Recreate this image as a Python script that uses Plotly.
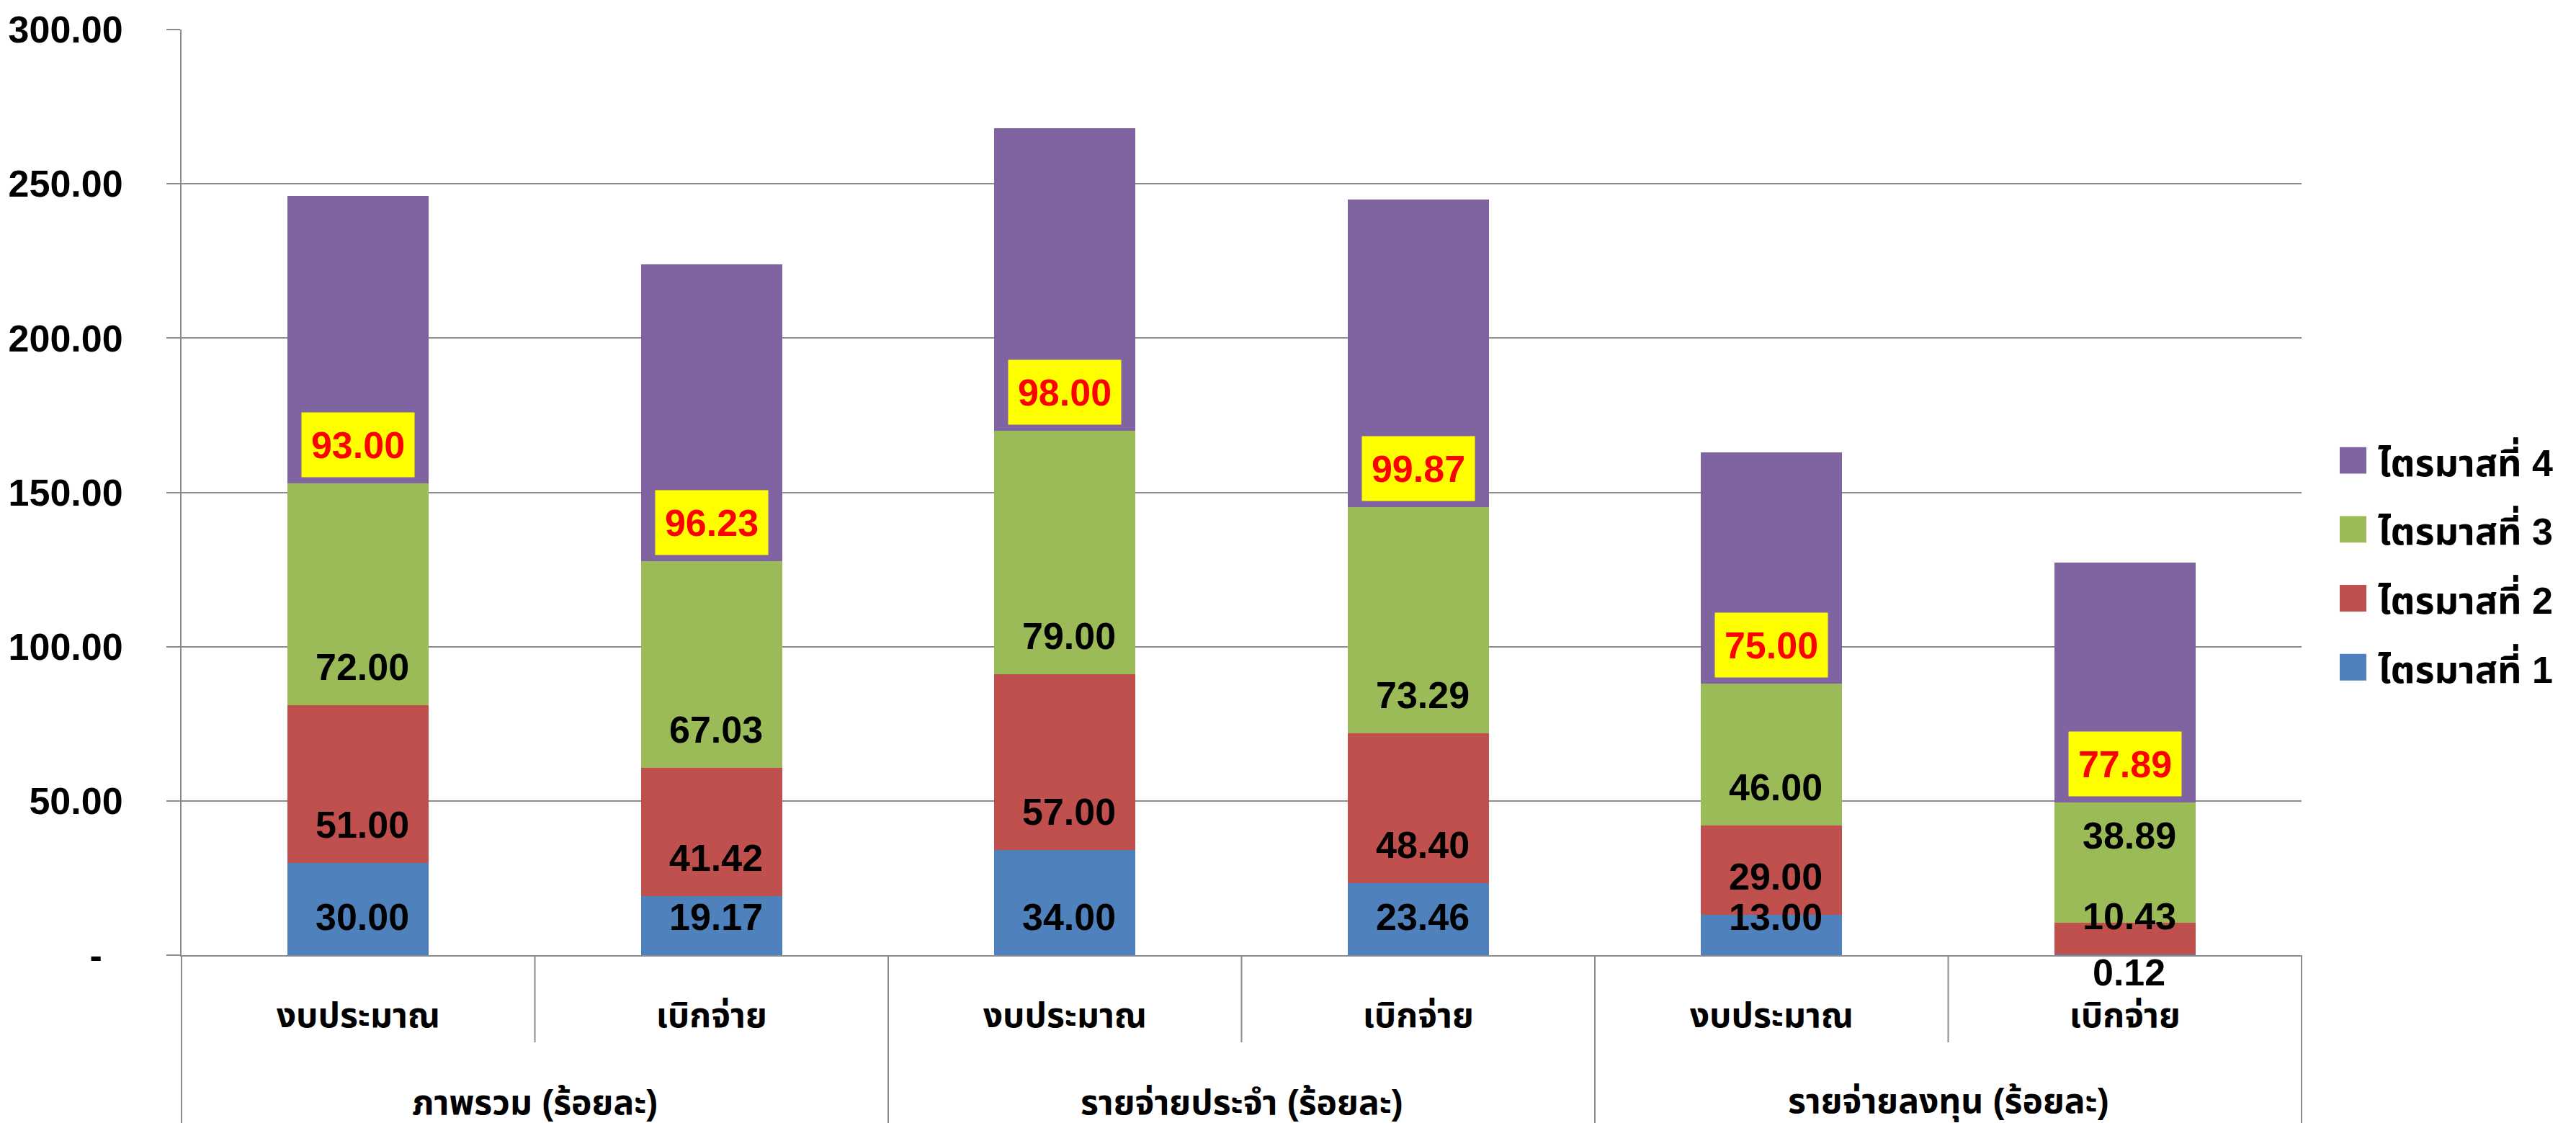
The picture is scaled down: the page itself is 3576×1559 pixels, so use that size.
import plotly.graph_objects as go

# ---------------- data ----------------
groups = ["ภาพรวม (ร้อยละ)", "รายจ่ายประจำ (ร้อยละ)", "รายจ่ายลงทุน (ร้อยละ)"]
subs = ["งบประมาณ", "เบิกจ่าย"]
series_names = ["ไตรมาสที่ 1", "ไตรมาสที่ 2", "ไตรมาสที่ 3", "ไตรมาสที่ 4"]
q1 = [30.00, 19.17, 34.00, 23.46, 13.00, 0.12]
q2 = [51.00, 41.42, 57.00, 48.40, 29.00, 10.43]
q3 = [72.00, 67.03, 79.00, 73.29, 46.00, 38.89]
q4 = [93.00, 96.23, 98.00, 99.87, 75.00, 77.89]
y_tickvals = [0, 50, 100, 150, 200, 250, 300]
y_ticktext = ["-\u00a0\u00a0", "50.00", "100.00", "150.00", "200.00", "250.00", "300.00"]

# ---------------- styles ----------------
colors = ["#4F81BD", "#C0504D", "#9BBB59", "#8064A2"]
FONT = "Liberation Sans, Noto Sans Thai, Noto Sans, Arial, sans-serif"
GRID = "#8C8C8C"
W, H = 3576, 1559
L, R, T, B = 251, 381, 37, 233
PW, PH = W - L - R, H - T - B

def px_x(p):
    return (p - L) / PW

def px_y(p):
    return (T + PH - p) / PH

series = [q1, q2, q3, q4]
n = len(q1)
xs = list(range(n))
ticktext = [s for g in groups for s in subs]

fig = go.Figure()
for name, vals, col in zip(series_names, series, colors):
    fig.add_trace(go.Bar(x=xs, y=vals, name=name, marker=dict(color=col, line=dict(width=0)),
                         showlegend=False, hoverinfo="x+y+name"))

annotations = []
shapes = []

# value labels (inside base); a few labels moved by hand in the original
label_shift_override = {(0, 5): -24, (2, 5): 121}
base = [0.0] * n
for k, vals in enumerate(series):
    for i, v in enumerate(vals):
        if k == 3:
            annotations.append(dict(
                x=i, y=base[i], xref="x", yref="y", text=f"{v:.2f}", showarrow=False,
                yanchor="bottom", yshift=8, bgcolor="#FFFF00", width=156, height=89,
                borderpad=0, font=dict(family=FONT, size=52, color="#FF0000", weight="bold")))
        else:
            annotations.append(dict(
                x=i, y=base[i], xref="x", yref="y", text=f"{v:.2f}", showarrow=False,
                yanchor="middle", yshift=label_shift_override.get((k, i), 53), xshift=6,
                font=dict(family=FONT, size=52, color="#000000", weight="bold")))
    base = [b + v for b, v in zip(base, vals)]

# group labels
for g, gname in enumerate(groups):
    annotations.append(dict(
        x=g * len(subs) + (len(subs) - 1) / 2, y=0, xref="x", yref="paper", text=gname,
        showarrow=False, yanchor="middle", yshift=-204,
        font=dict(family=FONT, size=48, color="#000000", weight="bold")))

# category dividers
xmin, xmax = -0.5, n - 0.5
for b in range(n + 1):
    bx = b - 0.5
    long_div = (b % len(subs) == 0)
    shapes.append(dict(
        type="line", xref="x domain", yref="paper", x0=(bx - xmin) / (xmax - xmin),
        x1=(bx - xmin) / (xmax - xmin), ysizemode="pixel", yanchor=0, y0=0,
        y1=-(B if long_div else 121), line=dict(color=GRID, width=2)))

# manual legend (Q4 on top)
for k in range(len(series_names) - 1, -1, -1):
    cy = 637 + 96 * (3 - k)
    shapes.append(dict(type="rect", xref="paper", yref="paper",
                       x0=px_x(3248), x1=px_x(3285), y0=px_y(cy + 18.5), y1=px_y(cy - 18.5),
                       fillcolor=colors[k], line=dict(width=0)))
    annotations.append(dict(x=px_x(3299), y=px_y(cy), xref="paper", yref="paper",
                            text=series_names[k], showarrow=False, xanchor="left", yanchor="middle",
                            font=dict(family=FONT, size=52, color="#000000", weight="bold")))

fig.update_layout(
    width=W, height=H, margin=dict(l=L, r=R, t=T, b=B, pad=0),
    barmode="stack", bargap=0.6,
    plot_bgcolor="#FFFFFF", paper_bgcolor="#FFFFFF",
    showlegend=False,
    annotations=annotations, shapes=shapes,
    font=dict(family=FONT, size=48, color="#000000"),
)
fig.update_xaxes(
    range=[xmin, xmax], tickvals=xs, ticktext=ticktext, ticks="", showgrid=False,
    showline=True, linecolor=GRID, linewidth=2, zeroline=False,
    tickfont=dict(family=FONT, size=48, color="#000000", weight="bold"),
    ticklabelstandoff=40,
)
fig.update_yaxes(
    range=[0, 300], tickvals=y_tickvals, ticktext=y_ticktext, ticks="outside", ticklen=19,
    tickcolor=GRID, tickwidth=2, showgrid=True, gridcolor=GRID, gridwidth=2,
    showline=True, linecolor=GRID, linewidth=2, zeroline=False,
    tickfont=dict(family=FONT, size=52, color="#000000", weight="bold"),
    ticklabelstandoff=50,
)

fig.write_html("out.html", config={"displayModeBar": False},
               post_script="document.body.style.margin='0';")
